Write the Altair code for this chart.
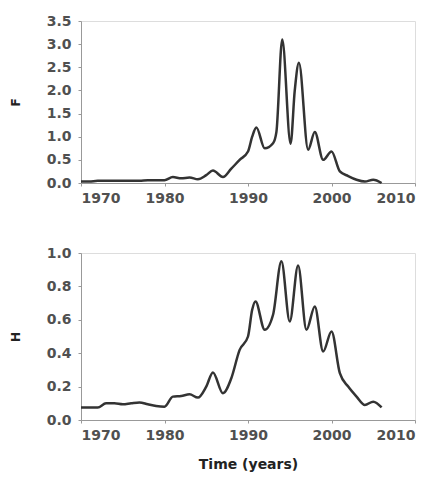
import altair as alt
import pandas as pd

f_years = [1970, 1971, 1972, 1973, 1974, 1975, 1976, 1977, 1978, 1979, 1980,
           1981, 1982, 1983, 1984, 1985, 1985.8, 1987, 1988, 1989, 1990, 1990.5,
           1991, 1992, 1993, 1993.4, 1994.1, 1995.1, 1995.6, 1996.1, 1997.2,
           1998, 1999, 2000, 2001, 2002, 2003, 2004, 2005, 2006]
f_values = [0.03, 0.03, 0.05, 0.05, 0.05, 0.05, 0.05, 0.05, 0.06, 0.06, 0.06,
            0.13, 0.10, 0.12, 0.08, 0.17, 0.27, 0.13, 0.31, 0.50, 0.68, 1.00,
            1.20, 0.75, 0.86, 1.10, 3.10, 0.85, 2.00, 2.60, 0.72,
            1.10, 0.50, 0.68, 0.25, 0.15, 0.07, 0.03, 0.07, 0.00]

h_years = [1970, 1971, 1972, 1973, 1974, 1975, 1976, 1977, 1978, 1979, 1980,
           1981, 1982, 1983, 1984, 1985, 1985.8, 1987, 1988, 1989, 1990, 1990.5,
           1990.9, 1992, 1993, 1994, 1995, 1996, 1997, 1998, 1999, 2000,
           2001, 2002, 2003, 2004, 2005, 2006]
h_values = [0.075, 0.075, 0.075, 0.10, 0.10, 0.094, 0.10, 0.105, 0.094, 0.084, 0.08,
            0.14, 0.144, 0.154, 0.134, 0.20, 0.285, 0.16, 0.25, 0.42, 0.50, 0.66,
            0.71, 0.54, 0.63, 0.95, 0.59, 0.925, 0.54, 0.68, 0.41, 0.53,
            0.28, 0.20, 0.14, 0.09, 0.11, 0.075]

x_ticks = [1970, 1980, 1990, 2000, 2010]
f_ticks = [0.0, 0.5, 1.0, 1.5, 2.0, 2.5, 3.0, 3.5]
h_ticks = [0.0, 0.2, 0.4, 0.6, 0.8, 1.0]

df_f = pd.DataFrame({"year": f_years, "F": f_values})
df_h = pd.DataFrame({"year": h_years, "H": h_values})

FONT = "DejaVu Sans"
line_color = "#333333"


def panel(df, field, ticks, ymax, fmt, height, xtitle):
    xaxis = alt.Axis(values=x_ticks, format="d", title=xtitle, grid=False,
                     labelFont=FONT, labelFontSize=14, labelFontWeight="bold",
                     labelColor="#505050", domainColor="#999999", tickColor="#999999",
                     tickSize=3, labelPadding=5, titleFont=FONT, titleFontSize=14,
                     titleFontWeight="bold", titleColor="#222222", titlePadding=15)
    yaxis = alt.Axis(values=ticks, format=fmt, title=field, grid=False,
                     labelFont=FONT, labelFontSize=14, labelFontWeight="bold",
                     labelColor="#505050", domainColor="#999999", tickColor="#999999",
                     tickSize=3, labelPadding=7, titleFont=FONT, titleFontSize=12,
                     titleFontWeight="bold", titleColor="#222222", titlePadding=24)
    return alt.Chart(df).mark_line(
        color=line_color, strokeWidth=2.5, interpolate="monotone"
    ).encode(
        x=alt.X("year:Q", scale=alt.Scale(domain=[1970, 2010], nice=False), axis=xaxis),
        y=alt.Y(f"{field}:Q", scale=alt.Scale(domain=[0, ymax], nice=False), axis=yaxis),
    ).properties(width=334, height=height)


top = panel(df_f, "F", f_ticks, 3.5, ".1f", 162, None)
bottom = panel(df_h, "H", h_ticks, 1.0, ".1f", 167, "Time (years)")

chart = alt.vconcat(top, bottom, spacing=39).properties(
    padding={"left": 0, "top": 5, "right": 0, "bottom": 0}
).configure_view(stroke=None).configure(background="white")

chart.save("out.html", embed_options={"renderer": "svg", "actions": False})
